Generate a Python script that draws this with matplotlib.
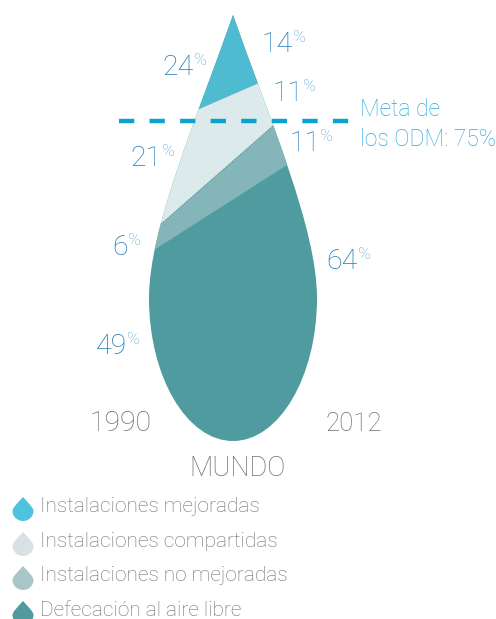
import matplotlib
matplotlib.use('Agg')
import matplotlib.pyplot as plt
from matplotlib.patches import PathPatch, Polygon
from matplotlib.path import Path

# values
categories = ['Instalaciones mejoradas', 'Instalaciones compartidas',
              'Instalaciones no mejoradas', 'Defecación al aire libre']
values_1990 = [24, 21, 6, 49]
values_2012 = [14, 11, 11, 64]
years = ['1990', '2012']
region = 'MUNDO'
target_label = ['Meta de', 'los ODM: 75%']

# colours
band_colors = ['#4EBBD0', '#DCEAEB', '#84B6B9', '#4F9BA0']
legend_colors = ['#4DC3DD', '#D8E2E4', '#A9C5C8', '#4F9BA0']
num_color = '#1C7DB8'
pct_color = '#5FA9D2'
grey = '#6E6E6E'
line_color = '#0AA3D0'
meta_color = '#2FABDB'

plt.rcParams['font.family'] = ['Roboto', 'DejaVu Sans']
plt.rcParams['font.weight'] = 'light'
plt.rcParams['lines.scale_dashes'] = False

# axes in pixels of the image, y goes down
fig = plt.figure(figsize=(4.96, 6.19), dpi=100)
ax = fig.add_axes([0, 0, 1, 1])
ax.set_xlim(0, 496)
ax.set_ylim(619, 0)
ax.axis('off')


def drop_path(cx, top, hw, mid, bottom):
    k = hw / 84
    codes = [Path.MOVETO] + [Path.CURVE4] * 12 + [Path.CLOSEPOLY]
    verts = [(cx, top),
             (cx + 37 * k, top + (mid - top) * 0.372), (cx + hw, top + (mid - top) * 0.754), (cx + hw, mid),
             (cx + hw, mid + (bottom - mid) * 0.55), (cx + hw * 0.55, bottom), (cx, bottom),
             (cx - hw * 0.55, bottom), (cx - hw, mid + (bottom - mid) * 0.55), (cx - hw, mid),
             (cx - hw, top + (mid - top) * 0.754), (cx - 37 * k, top + (mid - top) * 0.372), (cx, top),
             (cx, top)]
    return Path(verts, codes)


# main drop, the bands are clipped by the outline
drop = drop_path(233, 15, 84, 298, 441)
clip = PathPatch(drop, facecolor=band_colors[3], edgecolor='none', zorder=1)
ax.add_patch(clip)

# where the band limits meet the left (1990) and right (2012) edge
limits = [((197, 110), (259, 83)), ((161, 224), (274, 125)), ((154, 250), (287, 165))]
tops = [((100, 0), (400, 0))] + limits[:2]
for i in range(3):
    (x0, y0), (x1, y1) = limits[i]
    (a0, b0), (a1, b1) = tops[i]
    # limits are extended past the outline so the clip makes the edge
    s = (y1 - y0) / (x1 - x0)
    s_top = (b1 - b0) / (a1 - a0)
    poly = Polygon([(100, b0 + (100 - a0) * s_top), (400, b0 + (400 - a0) * s_top),
                    (400, y0 + (400 - x0) * s), (100, y0 + (100 - x0) * s)],
                   facecolor=band_colors[i], edgecolor='none', zorder=2)
    ax.add_patch(poly)
    poly.set_clip_path(clip)

# dotted limit under the shared band
(x0, y0), (x1, y1) = limits[1]
ax.plot([x0, x1], [y0, y1], color='#5C97A3', lw=0.6, linestyle=(0, (1, 1)), zorder=2.5)

# target line
ax.plot([119, 350], [121, 121], color=line_color, lw=3.2,
        linestyle=(0, (11, 11)), zorder=3, solid_capstyle='butt')
ax.text(360, 116, target_label[0], color=meta_color, fontsize=16.5, va='baseline')
ax.text(360, 146, target_label[1], color=meta_color, fontsize=16.5, va='baseline')

# percentages: right edge of the number and its baseline
left_pos = [(194, 75), (162, 166), (128, 255), (127, 354)]
right_pos = [(293, 52), (303, 101), (320, 151), (358, 269)]
for vals, pos in [(values_1990, left_pos), (values_2012, right_pos)]:
    for v, (x, y) in zip(vals, pos):
        ax.text(x, y, str(v), color=num_color, fontsize=20.5, ha='right', va='baseline')
        ax.text(x, y - 10, '%', color=pct_color, fontsize=12.5, ha='left', va='baseline')

# years and region
ax.text(120, 431, years[0], color=grey, fontsize=20.5, ha='center', va='baseline')
ax.text(354, 431, years[1], color=grey, fontsize=18.5, ha='center', va='baseline')
ax.text(238, 476, region, color=grey, fontsize=19.5, ha='center', va='baseline')

# legend
legend_tops = [497, 532, 566, 601]
legend_base = [512, 547, 581, 616]
for cat, col, t, b in zip(categories, legend_colors, legend_tops, legend_base):
    ax.add_patch(PathPatch(drop_path(23, t, 10.5, t + 14, t + 24), facecolor=col, edgecolor='none'))
    ax.text(40, b, cat, color=grey, fontsize=15, va='baseline')

fig.savefig('out.png', dpi=100)
